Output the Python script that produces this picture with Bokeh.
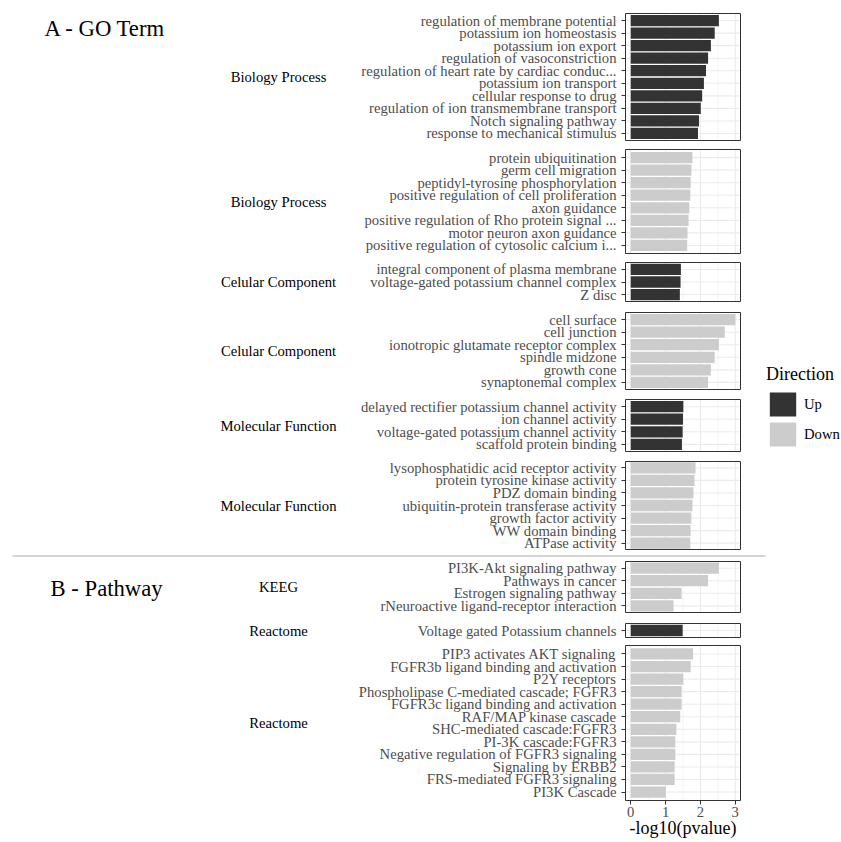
from bokeh.plotting import figure
from bokeh.models import Range1d, FixedTicker, Legend, LegendItem, ColumnDataSource
from bokeh.core.properties import value
from bokeh.embed import file_html
from bokeh.resources import INLINE

# ---------------- data ----------------
bp_up_terms = ["regulation of membrane potential", "potassium ion homeostasis", "potassium ion export",
               "regulation of vasoconstriction", "regulation of heart rate by cardiac conduc...",
               "potassium ion transport", "cellular response to drug",
               "regulation of ion transmembrane transport", "Notch signaling pathway",
               "response to mechanical stimulus"]
bp_up_vals = [2.53, 2.41, 2.30, 2.22, 2.16, 2.10, 2.05, 2.01, 1.96, 1.93]

bp_down_terms = ["protein ubiquitination", "germ cell migration", "peptidyl-tyrosine phosphorylation",
                 "positive regulation of cell proliferation", "axon guidance",
                 "positive regulation of Rho protein signal ...", "motor neuron axon guidance",
                 "positive regulation of cytosolic calcium i..."]
bp_down_vals = [1.77, 1.74, 1.72, 1.71, 1.68, 1.66, 1.63, 1.62]

cc_up_terms = ["integral component of plasma membrane", "voltage-gated potassium channel complex", "Z disc"]
cc_up_vals = [1.44, 1.43, 1.41]

cc_down_terms = ["cell surface", "cell junction", "ionotropic glutamate receptor complex",
                 "spindle midzone", "growth cone", "synaptonemal complex"]
cc_down_vals = [3.00, 2.70, 2.53, 2.41, 2.30, 2.22]

mf_up_terms = ["delayed rectifier potassium channel activity", "ion channel activity",
               "voltage-gated potassium channel activity", "scaffold protein binding"]
mf_up_vals = [1.51, 1.50, 1.49, 1.47]

mf_down_terms = ["lysophosphatidic acid receptor activity", "protein tyrosine kinase activity",
                 "PDZ domain binding", "ubiquitin-protein transferase activity",
                 "growth factor activity", "WW domain binding", "ATPase activity"]
mf_down_vals = [1.86, 1.83, 1.80, 1.77, 1.74, 1.72, 1.71]

kegg_terms = ["PI3K-Akt signaling pathway", "Pathways in cancer", "Estrogen signaling pathway",
              "rNeuroactive ligand-receptor interaction"]
kegg_vals = [2.53, 2.22, 1.46, 1.23]

reactome_up_terms = ["Voltage gated Potassium channels"]
reactome_up_vals = [1.49]

reactome_down_terms = ["PIP3 activates AKT signaling", "FGFR3b ligand binding and activation",
                       "P2Y receptors", "Phospholipase C-mediated cascade; FGFR3",
                       "FGFR3c ligand binding and activation", "RAF/MAP kinase cascade",
                       "SHC-mediated cascade:FGFR3", "PI-3K cascade:FGFR3",
                       "Negative regulation of FGFR3 signaling", "Signaling by ERBB2",
                       "FRS-mediated FGFR3 signaling", "PI3K Cascade"]
reactome_down_vals = [1.79, 1.72, 1.51, 1.46, 1.46, 1.42, 1.31, 1.28, 1.28, 1.26, 1.26, 1.01]

group_labels = ["Biology Process", "Biology Process", "Celular Component", "Celular Component",
                "Molecular Function", "Molecular Function", "KEEG", "Reactome", "Reactome"]
directions = ["Up", "Down", "Up", "Down", "Up", "Down", "Down", "Up", "Down"]
x_ticks = [0, 1, 2, 3]
x_title = "-log10(pvalue)"
legend_title = "Direction"
legend_labels = ["Up", "Down"]
section_titles = ["A - GO Term", "B - Pathway"]

panel_terms = [bp_up_terms, bp_down_terms, cc_up_terms, cc_down_terms, mf_up_terms,
               mf_down_terms, kegg_terms, reactome_up_terms, reactome_down_terms]
panel_vals = [bp_up_vals, bp_down_vals, cc_up_vals, cc_down_vals, mf_up_vals,
              mf_down_vals, kegg_vals, reactome_up_vals, reactome_down_vals]

# ---------------- layout (page pixels) ----------------
PAGE_W, PAGE_H = 841, 842
panel_edges = [(13, 140), (149, 253), (262, 301), (312, 389), (399, 451),
               (461, 549), (561, 612), (623, 637), (645, 800)]
ROW = 12.55
BAR_H = 0.9 * ROW
XMIN, XMAX = -0.15, 3.15
FRAME_LEFT = 625        # page x of panel left edge
FRAME_W = 115
XS = FRAME_W / (XMAX - XMIN)
SEP_Y, SEP_X0, SEP_X1 = 555.5, 12, 765
GROUP_X = 278
TITLE_POS = [(44, 27.7), (50, 587.7)]

def page_x(px):
    return (px - FRAME_LEFT) / XS + XMIN

UP_COLOR = "#333333"
DOWN_COLOR = "#cccccc"
GRID = "#ebebeb"
SEP_COLOR = "#a8a8a8"
SERIF = "Liberation Serif"

top_y = panel_edges[0][0]
bot_y = panel_edges[-1][1]

p = figure(frame_width=FRAME_W, frame_height=int(bot_y - top_y),
           x_range=Range1d(XMIN, XMAX), y_range=Range1d(bot_y, top_y),
           output_backend="svg", toolbar_location=None,
           min_border_left=FRAME_LEFT, min_border_top=top_y,
           min_border_right=PAGE_W - FRAME_LEFT - FRAME_W, min_border_bottom=PAGE_H - bot_y)
p.outline_line_color = None
p.xgrid.visible = False
p.ygrid.visible = False

up = dict(y=[], v=[])
down = dict(y=[], v=[])
ticks = []
overrides = {}
vx0, vx1, vy0, vy1, vw = [], [], [], [], []
hx0, hx1, hy = [], [], []
centers = []

for terms, vals, d, (t, b) in zip(panel_terms, panel_vals, directions, panel_edges):
    n = len(terms)
    c = (t + b) / 2.0
    centers.append(c)
    ys = [round(c + (i - (n - 1) / 2.0) * ROW, 3) for i in range(n)]
    tgt = up if d == "Up" else down
    tgt["y"].extend(ys)
    tgt["v"].extend(vals)
    for yy, term in zip(ys, terms):
        ticks.append(yy)
        overrides[yy] = term
        hx0.append(XMIN); hx1.append(XMAX); hy.append(yy)
    for gx in [0.5, 1.5, 2.5]:
        vx0.append(gx); vx1.append(gx); vy0.append(t); vy1.append(b); vw.append(0.55)
    for gx in x_ticks:
        vx0.append(gx); vx1.append(gx); vy0.append(t); vy1.append(b); vw.append(1.1)

# grid lines per panel
p.segment(x0=vx0, x1=vx1, y0=vy0, y1=vy1, line_color=GRID, line_width=vw)
p.segment(x0=hx0, x1=hx1, y0=hy, y1=hy, line_color=GRID, line_width=1.1)

# bars
r_up = p.hbar(y="y", left=0, right="v", height=BAR_H, source=ColumnDataSource(up),
              fill_color=UP_COLOR, line_color=None)
r_down = p.hbar(y="y", left=0, right="v", height=BAR_H, source=ColumnDataSource(down),
                fill_color=DOWN_COLOR, line_color=None)

# panel borders
p.quad(left=[XMIN] * len(panel_edges), right=[XMAX] * len(panel_edges),
       top=[e[0] for e in panel_edges], bottom=[e[1] for e in panel_edges],
       fill_color=None, line_color="#333333", line_width=1, level="annotation")

# separator between the two sections
p.segment(x0=[page_x(SEP_X0)], x1=[page_x(SEP_X1)], y0=[SEP_Y], y1=[SEP_Y],
          line_color=SEP_COLOR, line_width=1, level="annotation")

# facet group labels and section titles (outside the frame)
p.text(x=[page_x(GROUP_X)] * len(group_labels), y=centers, text=group_labels,
       text_font=value(SERIF), text_font_size=value("14.67px"), text_color="black",
       text_align="center", text_baseline="middle", level="annotation")
p.text(x=[page_x(tp[0]) for tp in TITLE_POS], y=[tp[1] for tp in TITLE_POS], text=section_titles,
       text_font=value(SERIF), text_font_size=value("22.7px"), text_color="black",
       text_align="left", text_baseline="alphabetic", level="annotation")

# y axis
ya = p.yaxis[0]
ya.ticker = FixedTicker(ticks=ticks, minor_ticks=[])
ya.major_label_overrides = overrides
ya.axis_line_color = None
ya.major_tick_in = 0
ya.major_tick_out = 4
ya.minor_tick_out = 0
ya.major_tick_line_color = "#333333"
ya.major_label_text_font = SERIF
ya.major_label_text_font_size = "14.67px"
ya.major_label_text_color = "#4d4d4d"
ya.major_label_standoff = 5

# x axis
xa = p.xaxis[0]
xa.ticker = FixedTicker(ticks=x_ticks, minor_ticks=[])
xa.axis_line_color = None
xa.major_tick_in = 0
xa.major_tick_out = 4
xa.minor_tick_out = 0
xa.major_tick_line_color = "#333333"
xa.major_label_text_font = SERIF
xa.major_label_text_font_size = "14.67px"
xa.major_label_text_color = "#4d4d4d"
xa.major_label_standoff = 2
xa.axis_label = x_title
xa.axis_label_text_font = SERIF
xa.axis_label_text_font_size = "18px"
xa.axis_label_text_font_style = "normal"
xa.axis_label_text_color = "black"
xa.axis_label_standoff = -2

# legend in the right side panel
legend = Legend(items=[LegendItem(label=legend_labels[0], renderers=[r_up]),
                       LegendItem(label=legend_labels[1], renderers=[r_down])],
                title=legend_title, location=(26, bot_y - 449))
legend.title_text_font = SERIF
legend.title_text_font_size = "18px"
legend.title_text_font_style = "normal"
legend.title_text_color = "black"
legend.title_standoff = 4
legend.label_text_font = SERIF
legend.label_text_font_size = "14.67px"
legend.label_text_color = "black"
legend.glyph_width = 33
legend.glyph_height = 30
legend.spacing = 0
legend.label_standoff = 5
legend.padding = 0
legend.margin = 0
legend.border_line_color = None
legend.background_fill_alpha = 0
p.add_layout(legend, "right")

open("out.html", "w").write(file_html(p, INLINE))
